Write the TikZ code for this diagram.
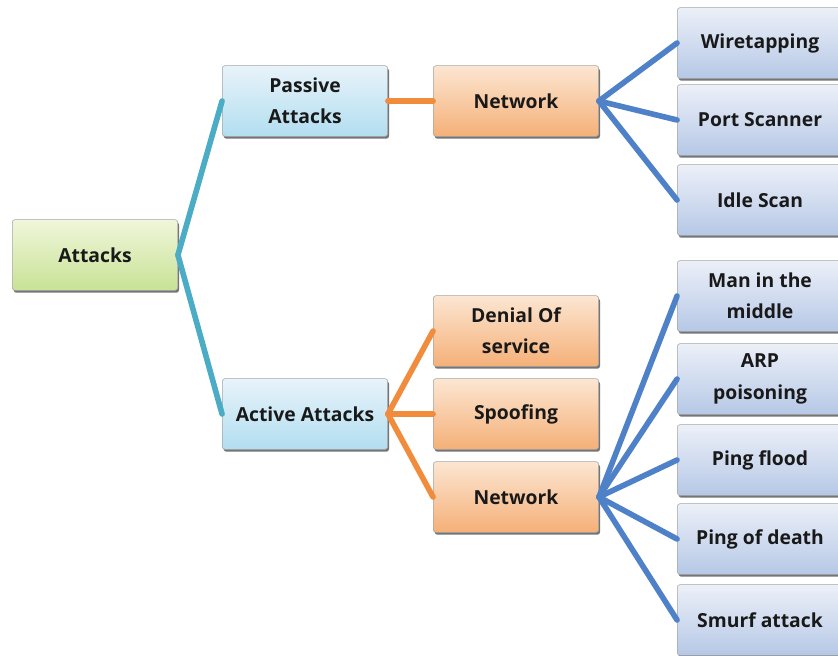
\documentclass[tikz,border=0pt]{standalone}
\usepackage{fontspec}
\setmainfont{Open Sans}
\usepackage{tikz}
\usetikzlibrary{shadows}
\definecolor{tealline}{RGB}{75,172,198}
\definecolor{orangeline}{RGB}{240,140,60}
\definecolor{blueline}{RGB}{79,129,200}
\definecolor{roottop}{RGB}{240,246,218}
\definecolor{rootbot}{RGB}{200,226,150}
\definecolor{kindtop}{RGB}{232,243,250}
\definecolor{kindbot}{RGB}{178,222,240}
\definecolor{midtop}{RGB}{252,230,210}
\definecolor{midbot}{RGB}{245,176,120}
\definecolor{leaftop}{RGB}{236,240,248}
\definecolor{leafbot}{RGB}{182,200,230}
\begin{document}
\begin{tikzpicture}[x=0.75pt,y=-0.75pt,
  box/.style={draw=gray!70, rounded corners=2pt, minimum width=124pt, minimum height=53pt,
    align=center, font=\fontsize{14.5}{23.5}\selectfont\bfseries, text=black!90,
    drop shadow={shadow xshift=1pt, shadow yshift=-1.8pt, fill=black!60, opacity=0.9}},
  rootbox/.style={box, top color=roottop, bottom color=rootbot},
  kindbox/.style={box, top color=kindtop, bottom color=kindbot},
  midbox/.style={box, top color=midtop, bottom color=midbot},
  leafbox/.style={box, top color=leaftop, bottom color=leafbot},
  link/.style={line width=4.2pt, line cap=round}]
\useasboundingbox (0,0) rectangle (838,656);
\fill[white] (0,0) rectangle (838,656);
\node[rootbox] (attacks) at (95,255) {Attacks};
\node[kindbox] (passive) at (305,101) {Passive\\Attacks};
\node[kindbox] (active) at (305,414) {Active Attacks};
\node[midbox] (pnet) at (516,101) {Network};
\node[midbox] (dos) at (516,331) {Denial Of\\service};
\node[midbox] (spoof) at (516,414) {Spoofing};
\node[midbox] (anet) at (516,497) {Network};
\node[leafbox] (wire) at (760,43) {Wiretapping};
\node[leafbox] (port) at (760,120) {Port Scanner};
\node[leafbox] (idle) at (760,200) {Idle Scan};
\node[leafbox] (mitm) at (760,296) {Man in the\\middle};
\node[leafbox] (arp) at (760,379) {ARP\\poisoning};
\node[leafbox] (flood) at (760,460) {Ping flood};
\node[leafbox] (death) at (760,539) {Ping of death};
\node[leafbox] (smurf) at (760,620) {Smurf attack};
\foreach \c in {passive,active}
  \draw[link, tealline] (attacks.east) -- (\c.west);
\draw[link, orangeline] (passive.east) -- (pnet.west);
\foreach \c in {dos,spoof,anet}
  \draw[link, orangeline] (active.east) -- (\c.west);
\foreach \c in {wire,port,idle}
  \draw[link, blueline] (pnet.east) -- (\c.west);
\foreach \c in {mitm,arp,flood,death,smurf}
  \draw[link, blueline] (anet.east) -- (\c.west);
\end{tikzpicture}
\end{document}
